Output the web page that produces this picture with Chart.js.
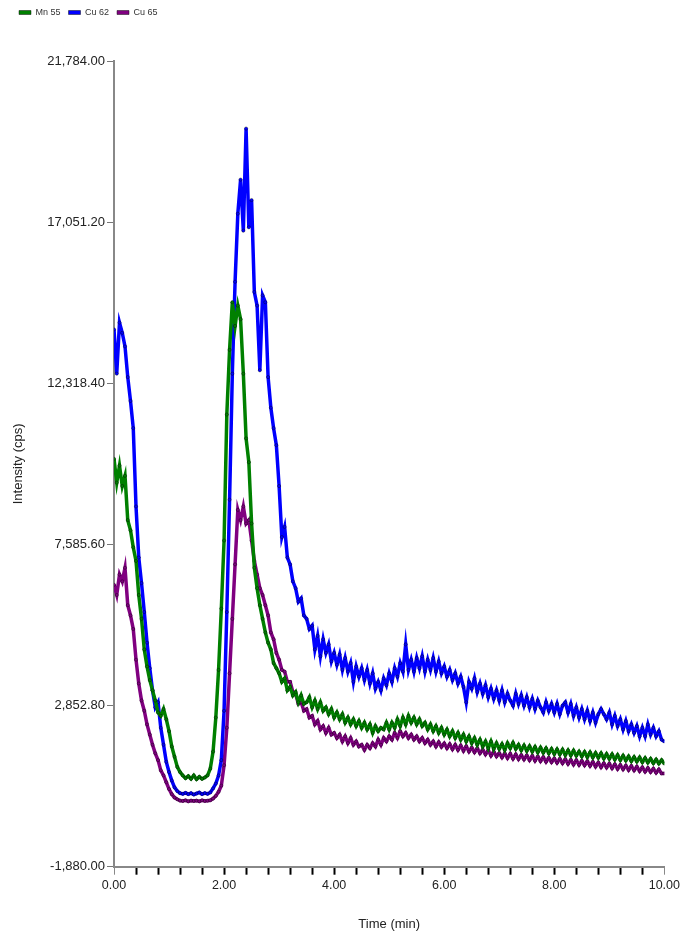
<!DOCTYPE html>
<html>
<head>
<meta charset="utf-8">
<script src="https://cdn.jsdelivr.net/npm/chart.js@4.4.1/dist/chart.umd.min.js"></script>
<style>
  html, body { margin: 0; padding: 0; background: #fff; }
  #chart { display: block; }
</style>
</head>
<body>
<canvas id="chart" width="683" height="939"></canvas>
<script>
// sampling times (min)
const times = [
  0.00, 0.05, 0.10, 0.15, 0.20, 0.25, 0.30, 0.35, 0.40, 0.45,
  0.50, 0.55, 0.60, 0.65, 0.70, 0.75, 0.80, 0.85, 0.90, 0.95,
  1.00, 1.05, 1.10, 1.15, 1.20, 1.25, 1.30, 1.35, 1.40, 1.45,
  1.50, 1.55, 1.60, 1.65, 1.70, 1.75, 1.80, 1.85, 1.90, 1.95,
  2.00, 2.05, 2.10, 2.15, 2.20, 2.25, 2.30, 2.35, 2.40, 2.45,
  2.50, 2.55, 2.60, 2.65, 2.70, 2.75, 2.80, 2.85, 2.90, 2.95,
  3.00, 3.05, 3.10, 3.15, 3.20, 3.25, 3.30, 3.35, 3.40, 3.45,
  3.50, 3.55, 3.60, 3.65, 3.70, 3.75, 3.80, 3.85, 3.90, 3.95,
  4.00, 4.05, 4.10, 4.15, 4.20, 4.25, 4.30, 4.35, 4.40, 4.45,
  4.50, 4.55, 4.60, 4.65, 4.70, 4.75, 4.80, 4.85, 4.90, 4.95,
  5.00, 5.05, 5.10, 5.15, 5.20, 5.25, 5.30, 5.35, 5.40, 5.45,
  5.50, 5.55, 5.60, 5.65, 5.70, 5.75, 5.80, 5.85, 5.90, 5.95,
  6.00, 6.05, 6.10, 6.15, 6.20, 6.25, 6.30, 6.35, 6.40, 6.45,
  6.50, 6.55, 6.60, 6.65, 6.70, 6.75, 6.80, 6.85, 6.90, 6.95,
  7.00, 7.05, 7.10, 7.15, 7.20, 7.25, 7.30, 7.35, 7.40, 7.45,
  7.50, 7.55, 7.60, 7.65, 7.70, 7.75, 7.80, 7.85, 7.90, 7.95,
  8.00, 8.05, 8.10, 8.15, 8.20, 8.25, 8.30, 8.35, 8.40, 8.45,
  8.50, 8.55, 8.60, 8.65, 8.70, 8.75, 8.80, 8.85, 8.90, 8.95,
  9.00, 9.05, 9.10, 9.15, 9.20, 9.25, 9.30, 9.35, 9.40, 9.45,
  9.50, 9.55, 9.60, 9.65, 9.70, 9.75, 9.80, 9.85, 9.90, 9.95,
  10.00
];

// intensities (cps)
const mn55 = [
  10100, 9400, 9900, 9300, 9600, 8300, 8000, 7500, 7100, 6100,
  5400, 4500, 4000, 3600, 3300, 3000, 2650, 2550, 2750, 2450,
  2100, 1650, 1350, 1050, 900, 800, 720, 780, 700, 800,
  690, 760, 700, 740, 800, 1000, 1500, 2500, 3900, 5700,
  7700, 11400, 13300, 14700, 14000, 14600, 14200, 12600, 10700, 10000,
  8200, 6900, 6300, 5800, 5400, 5000, 4700, 4500, 4100, 3950,
  3800, 3550, 3650, 3300, 3400, 3150, 3250, 2950, 3150, 2900,
  2950, 3100, 2800, 3000, 2750, 2950, 2700, 2800, 2600, 2750,
  2500, 2650, 2450, 2600, 2350, 2500, 2300, 2450, 2250, 2400,
  2200, 2350, 2150, 2300, 2050, 2250, 2100, 2200, 2150, 2350,
  2150, 2350, 2200, 2450, 2250, 2500, 2300, 2550, 2350, 2500,
  2300, 2450, 2250, 2350, 2150, 2300, 2100, 2250, 2050, 2200,
  2000, 2150, 1950, 2100, 1900, 2050, 1850, 2000, 1800, 1950,
  1750, 1900, 1700, 1850, 1650, 1800, 1600, 1800, 1580, 1750,
  1580, 1720, 1550, 1750, 1600, 1760, 1580, 1700, 1540, 1680,
  1520, 1660, 1500, 1640, 1480, 1620, 1470, 1600, 1450, 1580,
  1430, 1570, 1420, 1560, 1400, 1540, 1390, 1530, 1380, 1500,
  1360, 1490, 1340, 1480, 1330, 1460, 1320, 1450, 1300, 1430,
  1290, 1420, 1270, 1400, 1250, 1380, 1240, 1360, 1220, 1340,
  1210, 1330, 1190, 1310, 1180, 1290, 1160, 1270, 1150, 1250,
  1150
];

const cu62 = [
  13900, 12600, 14100, 13800, 13400, 12500, 11800, 11000, 8700, 7200,
  6450, 5600, 4700, 3950, 3300, 2800, 2950, 2200, 1700, 1200,
  900, 650, 450, 340, 280, 260, 290, 250, 280, 240,
  270, 300, 250, 280, 260, 300, 420, 560, 800, 1250,
  2700, 5600, 8900, 12600, 15300, 17300, 18300, 16800, 19800, 16900,
  17700, 15000, 14600, 12700, 14900, 14700, 12500, 11600, 11000, 10500,
  9300, 7800, 8100, 7200, 7000, 6500, 6300, 5900, 6000, 5500,
  5400, 5100, 5200, 4500, 4900, 4300, 4800, 4400, 4650, 4150,
  4400, 4050, 4350, 3900, 4250, 3850, 4100, 3550, 4000, 3700,
  3950, 3600, 3900, 3500, 3800, 3350, 3550, 3300, 3650, 3450,
  3800, 3550, 3950, 3700, 4100, 3850, 4650, 3900, 4200, 3850,
  4250, 3950, 4300, 3850, 4200, 3900, 4250, 3850, 4150, 3800,
  4000, 3700, 3900, 3600, 3800, 3500, 3700, 3400, 2950, 3550,
  3350, 3650, 3250, 3500, 3200, 3450, 3100, 3350, 3050, 3300,
  3000, 3300, 2950, 3200, 3000, 2850, 3200, 2900, 3150, 2850,
  3100, 2800, 3050, 2750, 3000, 2800, 2650, 2950, 2700, 2900,
  2650, 2900, 2600, 2850, 2950, 2650, 2900, 2550, 2800, 2500,
  2750, 2450, 2700, 2400, 2650, 2350, 2600, 2750, 2600, 2450,
  2650, 2300, 2550, 2250, 2450, 2150, 2400, 2100, 2300, 2050,
  2250, 1950, 2200, 1950, 2300, 2000, 2200, 1950, 2100, 1850,
  1800
];

const cu65 = [
  6400, 6100, 6700, 6500, 6900, 5800, 5500, 5100, 4200, 3500,
  3000, 2700, 2300, 2000, 1700, 1450, 1250, 950, 800, 600,
  400, 250, 150, 100, 60, 50, 70, 40, 60, 50,
  60, 40, 70, 50, 60, 70, 120, 200, 320, 500,
  1100, 2200, 3800, 5400, 7000, 8600, 8300, 8700, 8200, 8300,
  7700, 7100, 6700, 6300, 6100, 5800, 5500, 5000, 4800, 4400,
  4200, 3900, 3850, 3550, 3550, 3250, 3200, 2900, 2950, 2700,
  2750, 2500, 2550, 2300, 2400, 2150, 2250, 2050, 2200, 2000,
  2050, 1900, 2000, 1800, 1950, 1750, 1900, 1700, 1800, 1650,
  1700, 1550, 1700, 1600, 1750, 1650, 1850, 1700, 1900, 1800,
  1950, 1850, 2050, 1900, 2100, 1950, 2050, 1900, 2000, 1850,
  1950, 1800, 1900, 1750, 1850, 1700, 1800, 1650, 1780, 1640,
  1740, 1600, 1720, 1570, 1700, 1550, 1680, 1520, 1660, 1500,
  1620, 1480, 1600, 1450, 1560, 1420, 1540, 1380, 1500, 1360,
  1460, 1330, 1450, 1310, 1440, 1290, 1420, 1280, 1400, 1270,
  1390, 1250, 1380, 1230, 1360, 1220, 1340, 1200, 1320, 1190,
  1300, 1170, 1290, 1160, 1280, 1140, 1260, 1120, 1250, 1110,
  1230, 1100, 1220, 1080, 1200, 1060, 1180, 1040, 1160, 1030,
  1150, 1010, 1130, 990, 1110, 980, 1090, 960, 1080, 950,
  1060, 930, 1040, 910, 1020, 900, 1000, 880, 980, 860,
  860
];

const yTicks = [-1880, 2852.8, 7585.6, 12318.4, 17051.2, 21784];
const xTicks = [
  0, 0.4, 0.8, 1.2, 1.6, 2, 2.4, 2.8, 3.2, 3.6, 4, 4.4, 4.8,
  5.2, 5.6, 6, 6.4, 6.8, 7.2, 7.6, 8, 8.4, 8.8, 9.2, 9.6, 10
];
const xLabels = [0, 2, 4, 6, 8, 10];

const FONT = 'Arial, "Liberation Sans", sans-serif';

function series(label, values, color) {
  return {
    label,
    data: values.map((v, i) => ({ x: times[i], y: v })),
    borderColor: color,
    backgroundColor: color,
    borderWidth: 3.5,
    pointRadius: 1.6,
    pointBorderWidth: 0.7,
    pointBorderColor: 'rgba(0,0,0,0.55)',
    pointBackgroundColor: color,
    tension: 0,
  };
}

// extra room between the legend and the plot
const legendSpacer = {
  id: 'legendSpacer',
  beforeInit(chart) {
    const fit = chart.legend.fit;
    chart.legend.fit = function () {
      fit.bind(chart.legend)();
      this.height = 61;
    };
  },
};

const fmt = (v) => v.toLocaleString('en-US', { minimumFractionDigits: 2, maximumFractionDigits: 2 });
const isEnd = (ctx) => ctx.index === 0 || ctx.index === xTicks.length - 1;

new Chart(document.getElementById('chart'), {
  type: 'line',
  data: {
    datasets: [
      series('Mn 55', mn55, '#008000'),
      series('Cu 62', cu62, '#0000ff'),
      series('Cu 65', cu65, '#800080'),
    ],
  },
  options: {
    responsive: false,
    animation: false,
    layout: { padding: { left: 11, right: 16, top: 0, bottom: 0 } },
    plugins: {
      legend: {
        position: 'top',
        align: 'start',
        labels: {
          boxWidth: 12,
          boxHeight: 4,
          padding: 8,
          color: '#333',
          font: { family: FONT, size: 9 },
          generateLabels: (chart) =>
            Chart.defaults.plugins.legend.labels.generateLabels(chart).map((l) => ({
              ...l,
              lineWidth: 1,
              strokeStyle: 'rgba(0,0,0,0.45)',
            })),
        },
      },
      tooltip: { enabled: false },
    },
    scales: {
      x: {
        type: 'linear',
        min: 0,
        max: 10,
        afterBuildTicks: (scale) => { scale.ticks = xTicks.map((v) => ({ value: v })); },
        afterFit: (scale) => { scale.height = 72.3; },
        grid: {
          drawOnChartArea: false,
          tickLength: 8,
          tickColor: (ctx) => (isEnd(ctx) ? '#888' : '#000'),
          tickWidth: (ctx) => (isEnd(ctx) ? 1 : 2),
        },
        border: { color: '#888', width: 2 },
        ticks: {
          autoSkip: false,
          maxRotation: 0,
          padding: 3,
          color: '#222',
          font: { family: FONT, size: 12.5 },
          callback: (v) => (xLabels.some((l) => Math.abs(l - v) < 1e-6) ? fmt(v) : ''),
        },
        title: {
          display: true,
          text: 'Time (min)',
          color: '#222',
          font: { family: FONT, size: 13 },
          padding: { top: 0, bottom: 7 },
        },
      },
      y: {
        type: 'linear',
        min: -1880,
        max: 21784,
        afterBuildTicks: (scale) => { scale.ticks = yTicks.map((v) => ({ value: v })); },
        afterFit: (scale) => { scale.width = 103; },
        grid: {
          drawOnChartArea: false,
          tickLength: 7,
          tickColor: '#777',
          tickWidth: 1,
        },
        border: { color: '#888', width: 2 },
        ticks: {
          padding: 2,
          color: '#222',
          font: { family: FONT, size: 13 },
          callback: (v) => fmt(v),
        },
        title: {
          display: true,
          text: 'Intensity (cps)',
          color: '#222',
          font: { family: FONT, size: 13 },
          padding: { top: 0, bottom: 0 },
        },
      },
    },
  },
  plugins: [legendSpacer],
});
</script>
</body>
</html>
